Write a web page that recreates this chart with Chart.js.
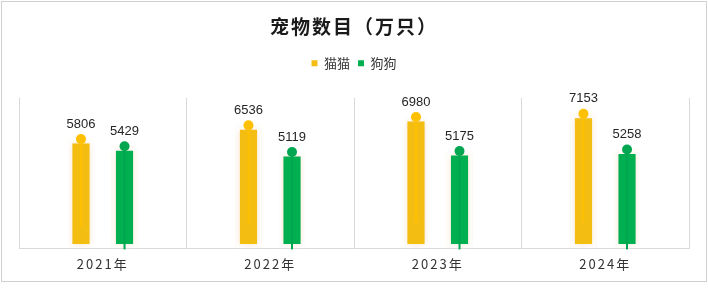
<!DOCTYPE html>
<html>
<head>
<meta charset="utf-8">
<script src="https://cdn.jsdelivr.net/npm/chart.js@4/dist/chart.umd.min.js"></script>
<style>
html,body{margin:0;padding:0;background:#fff;}
#wrap{position:relative;width:708px;height:293px;}
#frame{position:absolute;left:1px;top:1px;width:706px;height:281px;box-sizing:border-box;border:1px solid #d0d0d0;pointer-events:none;}
canvas{position:absolute;left:0;top:0;}
</style>
</head>
<body>
<div id="wrap"><canvas id="c" width="708" height="293"></canvas><div id="frame"></div></div>
<script>
const categories = ['2021年', '2022年', '2023年', '2024年'];
const catValues = [5806, 6536, 6980, 7153];
const dogValues = [5429, 5119, 5175, 5258];
const seriesNames = ['猫猫', '狗狗'];

const FONT = "'Liberation Sans', 'Noto Sans CJK SC', sans-serif";
const CJK = "'Noto Sans CJK SC', 'Liberation Sans', sans-serif";
const dotColors = ['#FFC000', '#00A650'];

const glow = {
  id: 'glow',
  beforeDatasetDraw(chart) {
    const ctx = chart.ctx;
    ctx.save();
    ctx.shadowColor = 'rgba(235,160,80,0.28)';
    ctx.shadowBlur = 7;
  },
  afterDatasetDraw(chart) {
    chart.ctx.restore();
  }
};

function wrapSpacing(obj, fnName, spacing, ctx) {
  if (!obj || obj['__wrapped_' + fnName]) return;
  const orig = obj[fnName];
  obj[fnName] = function () {
    const prev = ctx.letterSpacing;
    ctx.letterSpacing = spacing;
    const r = orig.apply(this, arguments);
    ctx.letterSpacing = prev || '0px';
    return r;
  };
  obj['__wrapped_' + fnName] = true;
}

const spacingPlugin = {
  id: 'spacing',
  beforeInit(chart) {
    const lg = chart.legend;
    if (lg && !lg.__fitWrapped) {
      const origFit = lg.fit;
      lg.fit = function () {
        origFit.apply(this, arguments);
        this.height += 18;
      };
      lg.__fitWrapped = true;
    }
  },
  beforeDraw(chart) {
    wrapSpacing(chart.titleBlock, 'draw', '2px', chart.ctx);
    wrapSpacing(chart.scales.x, 'drawLabels', '2px', chart.ctx);
  }
};

const marks = {
  id: 'marks',
  afterDatasetsDraw(chart) {
    const ctx = chart.ctx;
    const base = chart.scales.y.getPixelForValue(0);
    chart.data.datasets.forEach((ds, di) => {
      const meta = chart.getDatasetMeta(di);
      meta.data.forEach((bar, i) => {
        const x = bar.x, y = bar.y;
        ctx.save();
        ctx.letterSpacing = '0px';
        ctx.strokeStyle = dotColors[di];
        ctx.lineWidth = 2;
        ctx.beginPath();
        ctx.moveTo(x, y);
        if (di === 0) ctx.lineTo(x, y + (base - y) * 0.8);
        else ctx.lineTo(x, base + 1);
        ctx.stroke();
        ctx.fillStyle = dotColors[di];
        ctx.beginPath();
        ctx.arc(x, y, 5, 0, Math.PI * 2);
        ctx.fill();
        ctx.fillStyle = '#262626';
        ctx.font = '13px ' + FONT;
        ctx.textAlign = 'center';
        ctx.textBaseline = 'middle';
        ctx.fillText(String(ds.data[i]), x, y - 15);
        ctx.restore();
      });
    });
  }
};

new Chart(document.getElementById('c'), {
  type: 'bar',
  data: {
    labels: categories,
    datasets: [
      { label: seriesNames[0], data: catValues, backgroundColor: '#F3BD12', borderColor: '#ffffff', borderWidth: 4.5, borderSkipped: false },
      { label: seriesNames[1], data: dogValues, backgroundColor: '#00B050', borderColor: '#ffffff', borderWidth: 4.5, borderSkipped: false }
    ]
  },
  options: {
    responsive: false,
    animation: false,
    devicePixelRatio: 1,
    layout: { padding: { left: 19, right: 19, top: 8, bottom: 13 } },
    datasets: { bar: { categoryPercentage: 0.52, barPercentage: 0.6 } },
    plugins: {
      title: {
        display: true,
        text: '宠物数目（万只）',
        color: '#1a1a1a',
        font: { family: CJK, size: 19, weight: 'bold' },
        padding: { top: 7, bottom: 11 }
      },
      legend: {
        display: true,
        labels: {
          color: '#333333',
          font: { family: CJK, size: 13 },
          boxWidth: 6,
          boxHeight: 6,
          padding: 8,
          generateLabels(chart) {
            return chart.data.datasets.map((ds, i) => ({
              text: ds.label, fillStyle: ds.backgroundColor, strokeStyle: ds.backgroundColor,
              lineWidth: 0, datasetIndex: i, fontColor: '#333333'
            }));
          }
        }
      },
      tooltip: { enabled: false }
    },
    scales: {
      x: {
        grid: { display: true, color: '#d9d9d9', offset: true, drawTicks: false },
        border: { display: true, color: '#d9d9d9' },
        ticks: { color: '#333333', font: { family: CJK, size: 13 }, padding: 8 }
      },
      y: {
        display: false,
        min: 0,
        max: 8000
      }
    }
  },
  plugins: [spacingPlugin, glow, marks]
});
</script>
</body>
</html>
